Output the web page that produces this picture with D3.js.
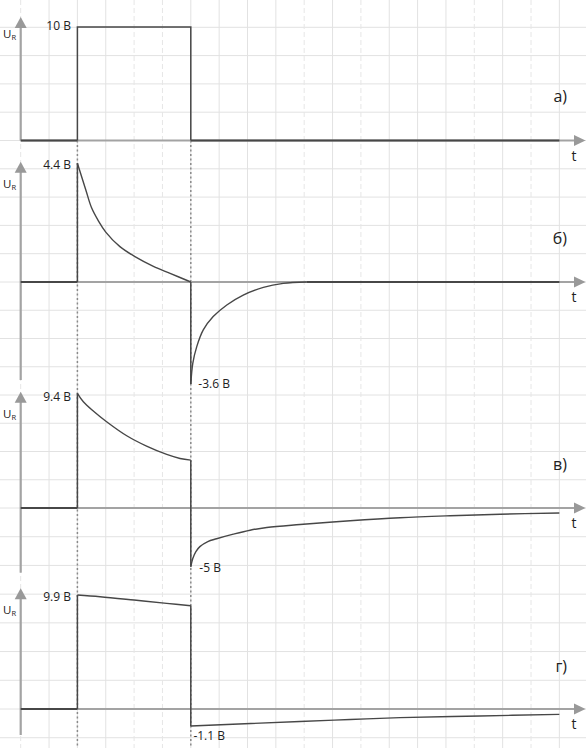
<!DOCTYPE html>
<html>
<head>
<meta charset="utf-8">
<script src="https://cdn.jsdelivr.net/npm/d3@7"></script>
<style>
  html, body { margin: 0; padding: 0; background: #fff; }
  svg { display: block; font-family: "Open Sans", "DejaVu Sans", sans-serif; }
</style>
</head>
<body>
<svg id="chart" width="586" height="748"></svg>
<script>
// ---------------- DATA (time in grid cells, voltage in volts) ----------------
const pulseStart = 2;
const pulseEnd = 6;
const timeEnd = 19;

// а) input pulse
const aLevels = [0, 10];

// б) small RC
const bChargeT = [2, 2.3, 2.5, 2.75, 3.0, 3.5, 4.03, 4.68, 5.27, 6];
const bChargeV = [4.4, 3.4, 2.75, 2.25, 1.85, 1.31, 0.94, 0.58, 0.32, 0];
const bDischT  = [6, 6.07, 6.21, 6.44, 6.79, 7.27, 7.85, 8.56, 9.26, 10.09, 19];
const bDischV  = [-3.6, -2.87, -2.28, -1.69, -1.22, -0.81, -0.46, -0.19, -0.05, 0, 0];

// в) medium RC
const vChargeT = [2, 2.21, 2.56, 3.03, 3.74, 4.44, 5.15, 5.62, 6];
const vChargeV = [9.4, 8.71, 7.95, 7.07, 5.92, 5.07, 4.39, 4.06, 3.92];
const vDischT  = [6, 6.07, 6.18, 6.32, 6.6, 6.91, 7.5, 8.09, 8.68, 9.85, 11.62, 13.38, 15.15, 16.91, 19];
const vDischV  = [-5, -4.3, -3.71, -3.29, -2.86, -2.62, -2.23, -1.89, -1.66, -1.41, -1.09, -0.83, -0.66, -0.53, -0.42];

// г) large RC
const gChargeT = [2, 2.8, 4, 5.15, 6];
const gChargeV = [9.9, 9.75, 9.46, 9.17, 8.97];
const gDischT  = [6, 9.85, 11.62, 13.38, 16.2, 19];
const gDischV  = [-1.1, -0.81, -0.68, -0.56, -0.45, -0.35];

const panelNames = ["а)", "б)", "в)", "г)"];
const peakLabels = ["10 В", "4.4 В", "9.4 В", "9.9 В"];
const minLabels  = [null, "-3.6 В", "-5 В", "-1.1 В"];
const axisLabel = "U";
const axisSub = "R";
const timeLabel = "t";

// ---------------- LAYOUT ----------------
const svg = d3.select("#chart");
const W = 586, H = 748;
const x = d3.scaleLinear().domain([0, timeEnd]).range([20.7, 559.35]);
const gridRows = d3.scaleLinear().domain([5, 10, 18, 25]).range([140.5, 282, 508, 709]);
const dashedCols = [0, 4, 5, 10, 12, 16, 18];

const panels = [
  { y: d3.scaleLinear().domain([0, 10]).range([140.5, 27]), tip: 17, bottom: 140.5,
    uBase: 38.3, nameBase: 102, peakDy: 3, minDy: 0, minDx: 0 },
  { y: d3.scaleLinear().domain([-3.6, 0, 4.4]).range([384, 282, 163.3]), tip: 161.7, bottom: 380,
    uBase: 188.3, nameBase: 243.5, peakDy: 6, minDy: 4.3, minDx: 7.5 },
  { y: d3.scaleLinear().domain([-5, 0, 9.4]).range([566.7, 508, 393.3]), tip: 391.7, bottom: 572.7,
    uBase: 417.7, nameBase: 470, peakDy: 7.2, minDy: 5, minDx: 8.5 },
  { y: d3.scaleLinear().domain([-1.1, 0, 9.9]).range([726, 709, 595]), tip: 588.3, bottom: 735,
    uBase: 614.3, nameBase: 671.5, peakDy: 5.7, minDy: 14, minDx: 2.6 }
];

// ---------------- GRID ----------------
const grid = svg.append("g");
grid.selectAll("line.h").data(d3.range(0, 27)).join("line")
  .attr("x1", 0).attr("x2", W)
  .attr("y1", d => gridRows(d)).attr("y2", d => gridRows(d))
  .attr("stroke", "#e2e2e2").attr("stroke-width", 1);
grid.selectAll("line.v").data(d3.range(0, timeEnd + 1)).join("line")
  .attr("x1", d => x(d)).attr("x2", d => x(d))
  .attr("y1", 0).attr("y2", H)
  .attr("stroke", d => dashedCols.includes(d) ? "#e6e6e6" : "#e2e2e2")
  .attr("stroke-dasharray", d => dashedCols.includes(d) ? "5,3" : null)
  .attr("stroke-width", 1);

// ---------------- DOTTED GUIDES ----------------
svg.append("g").selectAll("line").data([pulseStart, pulseEnd]).join("line")
  .attr("x1", d => x(d)).attr("x2", d => x(d))
  .attr("y1", panels[0].y(0)).attr("y2", H)
  .attr("stroke", "#8a8a8a").attr("stroke-width", 1.5)
  .attr("stroke-dasharray", "2,2.5");

// ---------------- AXES ----------------
const axisColor = "#a3a3a3";
const arrowColor = "#999";
panels.forEach((p, i) => {
  const g = svg.append("g");
  const y0 = p.y(0);
  g.append("line").attr("x1", x(0)).attr("x2", 576).attr("y1", y0).attr("y2", y0)
    .attr("stroke", axisColor).attr("stroke-width", 2.2);
  g.append("path").attr("d", d3.line()([[574, y0 - 5.5], [585.5, y0], [574, y0 + 5.5]]) + "Z")
    .attr("fill", arrowColor);
  g.append("line").attr("x1", x(0)).attr("x2", x(0)).attr("y1", p.bottom).attr("y2", p.tip + 9)
    .attr("stroke", axisColor).attr("stroke-width", 2.2);
  g.append("path").attr("d", d3.line()([[x(0) - 6, p.tip + 11], [x(0), p.tip], [x(0) + 6, p.tip + 11]]) + "Z")
    .attr("fill", arrowColor);
  const u = g.append("text").attr("x", 3).attr("y", p.uBase)
    .attr("font-size", 11.5).attr("fill", "#222").text(axisLabel);
  u.append("tspan").attr("font-size", 7.5).attr("dy", 2).text(axisSub);
  g.append("text").attr("x", 574).attr("y", y0 + 20).attr("text-anchor", "middle")
    .attr("font-size", 14).attr("fill", "#222").text(timeLabel);
  g.append("text").attr("x", 567).attr("y", p.nameBase).attr("text-anchor", "end")
    .attr("font-size", 16).attr("fill", "#222").text(panelNames[i]);
});

// ---------------- SIGNALS ----------------
const sigColor = "#474747";
const lin = d3.line().curve(d3.curveLinear);
const smooth = d3.line().curve(d3.curveCatmullRom.alpha(0.5));
function pts(p, ts, vs) { return ts.map((t, k) => [x(t), p.y(vs[k])]); }
function drawLin(p, arr, w) {
  svg.append("path").attr("d", lin(arr)).attr("fill", "none")
    .attr("stroke", sigColor).attr("stroke-width", w || 1.5).attr("stroke-linejoin", "miter");
}
function drawSmooth(p, arr) {
  svg.append("path").attr("d", smooth(arr)).attr("fill", "none")
    .attr("stroke", sigColor).attr("stroke-width", 1.4);
}

// а)
{
  const p = panels[0];
  drawLin(p, pts(p, [0, pulseStart], [aLevels[0], aLevels[0]]), 2.2);
  drawLin(p, pts(p, [pulseStart, pulseStart, pulseEnd, pulseEnd], [aLevels[0], aLevels[1], aLevels[1], aLevels[0]]), 1.5);
  drawLin(p, pts(p, [pulseEnd, timeEnd], [aLevels[0], aLevels[0]]), 2.2);
}
// б, в, г
const series = [
  null,
  [bChargeT, bChargeV, bDischT, bDischV],
  [vChargeT, vChargeV, vDischT, vDischV],
  [gChargeT, gChargeV, gDischT, gDischV]
];
series.forEach((s, i) => {
  if (!s) return;
  const p = panels[i];
  const [cT, cV, dT, dV] = s;
  drawLin(p, pts(p, [0, pulseStart], [0, 0]), 2.2);
  drawLin(p, pts(p, [pulseStart, pulseStart], [0, cV[0]]), 1.5);
  drawSmooth(p, pts(p, cT, cV));
  drawLin(p, pts(p, [pulseEnd, pulseEnd], [cV[cV.length - 1], dV[0]]), 1.5);
  const dPts = pts(p, dT, dV);
  const zeroIdx = dV.indexOf(0);
  if (zeroIdx >= 0) {
    drawSmooth(p, dPts.slice(0, zeroIdx + 1));
    drawLin(p, dPts.slice(zeroIdx), 2.2);
  } else {
    drawSmooth(p, dPts);
  }
});

// ---------------- VALUE LABELS ----------------
panels.forEach((p, i) => {
  const peakV = i === 0 ? aLevels[1] : series[i][1][0];
  svg.append("text").attr("x", x(pulseStart) - 6.5).attr("y", p.y(peakV) + p.peakDy)
    .attr("text-anchor", "end").attr("font-size", 12).attr("fill", "#222").text(peakLabels[i]);
  if (minLabels[i]) {
    const minV = series[i][3][0];
    svg.append("text").attr("x", x(pulseEnd) + p.minDx).attr("y", p.y(minV) + p.minDy)
      .attr("font-size", 12).attr("fill", "#222").text(minLabels[i]);
  }
});
</script>
</body>
</html>
